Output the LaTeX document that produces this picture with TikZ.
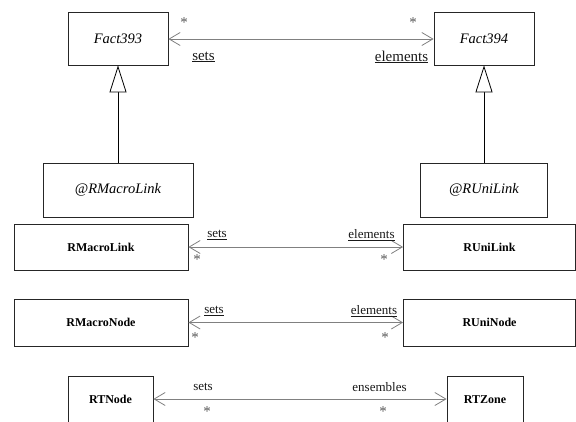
\documentclass[tikz,border=0pt]{standalone}
\usepackage{fontspec}
\setmainfont{Liberation Serif}
\usetikzlibrary{arrows.meta}
\tikzset{
  cls/.style={draw=black!85, line width=0.8pt, fill=white, inner sep=0pt, anchor=center},
  absc/.style={cls, font=\fontsize{14.5}{16}\selectfont\itshape},
  conc/.style={cls, font=\fontsize{12}{14}\selectfont\bfseries},
  assoc/.style={draw=black!50, line width=0.8pt, {Straight Barb[length=11pt,width=13pt]}-{Straight Barb[length=11pt,width=13pt]}},
  inh/.style={draw=black, line width=0.8pt, -{Triangle[open,length=27pt,width=17pt,fill=white]}},
  lbl/.style={inner sep=0pt, text=black!90},
  biglbl/.style={lbl, font=\fontsize{15}{17}\selectfont},
  smlbl/.style={lbl, font=\fontsize{13}{15}\selectfont},
  star/.style={inner sep=0pt, text=black!65, font=\fontsize{15}{17}\selectfont},
}
\begin{document}
\begin{tikzpicture}[x=1pt,y=-1pt]
\useasboundingbox (0,0) rectangle (576,421);
% classes
\node[absc, minimum width=100, minimum height=53] (f393) at (118,38.5) {Fact393};
\node[absc, minimum width=100, minimum height=53] (f394) at (484,38.5) {Fact394};
\node[absc, minimum width=150, minimum height=54] (arm) at (118,190) {@RMacroLink};
\node[absc, minimum width=127, minimum height=54] (aru) at (484,190) {@RUniLink};
\node[conc, minimum width=174, minimum height=46] (rml) at (101,247) {RMacroLink};
\node[conc, minimum width=172, minimum height=46] (rul) at (489.5,247) {RUniLink};
\node[conc, minimum width=174, minimum height=47] (rmn) at (101,322.5) {RMacroNode};
\node[conc, minimum width=172, minimum height=47] (run) at (489.5,322.5) {RUniNode};
\node[conc, minimum width=85, minimum height=47] (rtn) at (110.5,399.5) {RTNode};
\node[conc, minimum width=76, minimum height=47] (rtz) at (485,399.5) {RTZone};
% inheritance
\draw[inh] (arm.north) -- (f393.south);
\draw[inh] (aru.north) -- (f394.south);
% associations
\draw[assoc] (f393.east |- 0,39) -- (f394.west |- 0,39);
\draw[assoc] (rml.east) -- (rul.west);
\draw[assoc] (rmn.east) -- (run.west);
\draw[assoc] (rtn.east |- 0,399) -- (rtz.west |- 0,399);
% labels
\node[star] (s1) at (184,23) {*};
\node[biglbl] (l1) at (203.5,57) {\underline{sets}};
\node[star] (s2) at (413,23) {*};
\node[biglbl] (l2) at (401.5,57) {\underline{elements}};
\node[star] (s3) at (197,260) {*};
\node[smlbl] (l3) at (217,235) {\underline{sets}};
\node[star] (s4) at (384,260) {*};
\node[smlbl] (l4) at (371.5,235) {\underline{elements}};
\node[star] (s5) at (195,338) {*};
\node[smlbl] (l5) at (214,311) {\underline{sets}};
\node[star] (s6) at (385,338) {*};
\node[smlbl] (l6) at (374,311) {\underline{elements}};
\node[star] (s7) at (207,412) {*};
\node[smlbl] (l7) at (203,387) {sets};
\node[star] (s8) at (383,412) {*};
\node[smlbl] (l8) at (379.5,387) {ensembles};
\end{tikzpicture}
\end{document}
